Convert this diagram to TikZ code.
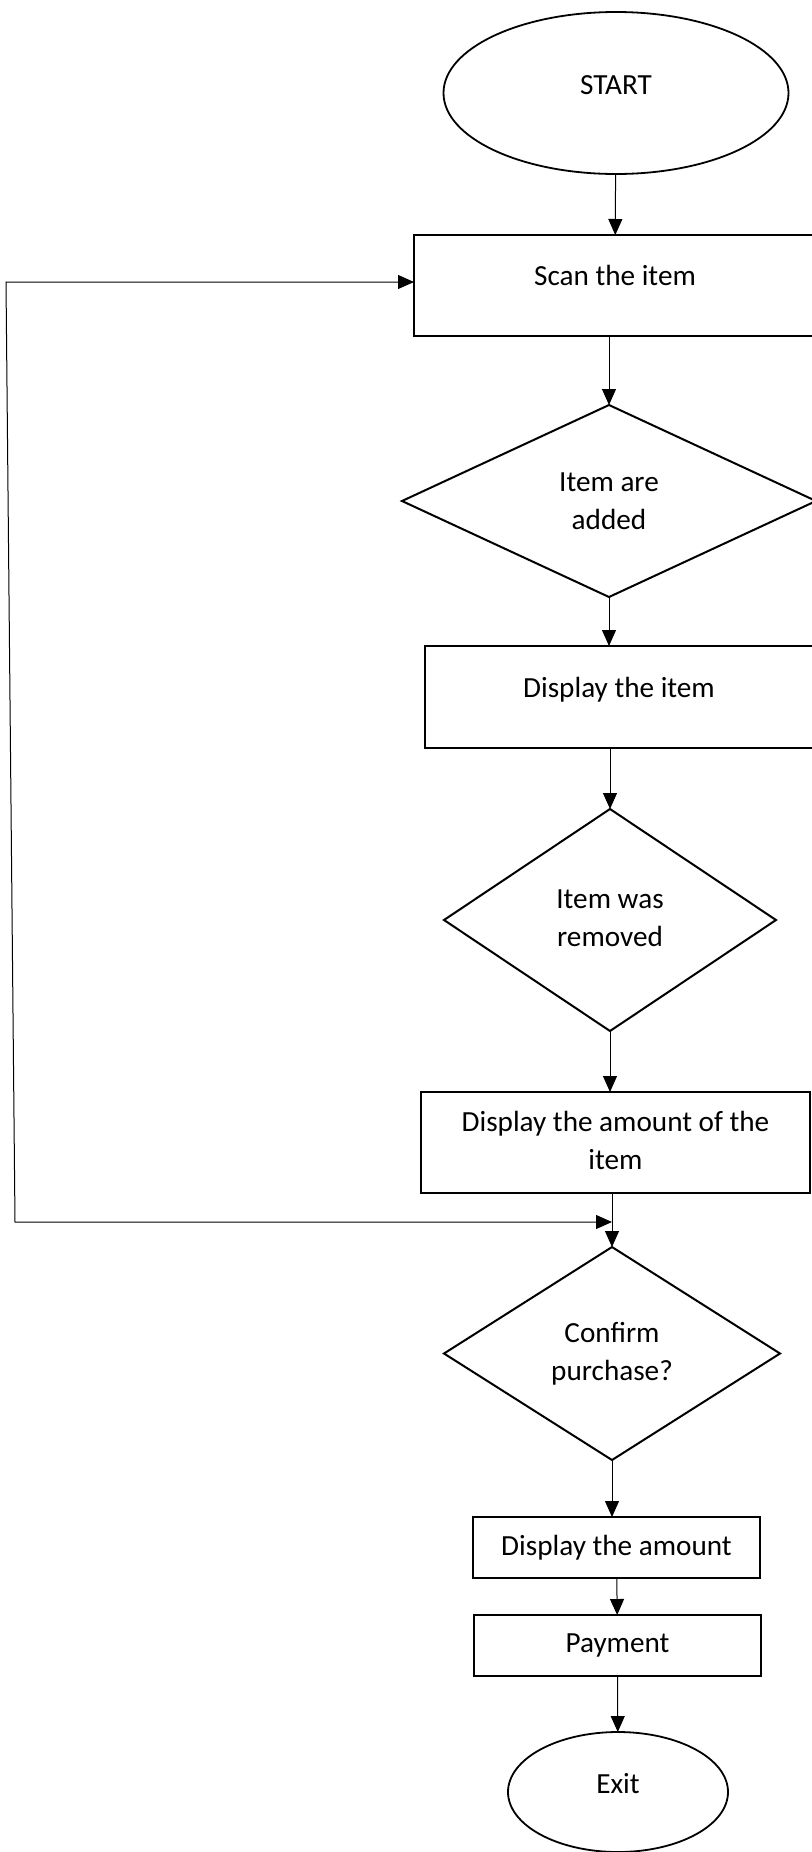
\documentclass[tikz,border=0pt]{standalone}
\usepackage{fontspec}
\setmainfont{Carlito}
\usetikzlibrary{arrows.meta, positioning, shapes.geometric}
\tikzset{%
	term/.style={draw, ellipse, line width=0.9pt, inner sep=0pt, outer sep=0pt},
	proc/.style={draw, rectangle, line width=1.3pt, inner sep=0pt, outer sep=0pt, align=center},
	dec/.style={draw, diamond, line width=1pt, inner sep=0pt, outer sep=0pt, align=center},
	flow/.style={-{Triangle[length=8pt, width=7pt]}, line width=0.5pt},
	back/.style={{Triangle[length=8pt, width=7pt]}-{Triangle[length=8pt, width=7pt]}, line width=0.5pt}
}
\begin{document}
\begin{tikzpicture}[x=0.5pt, y=-0.5pt, font=\fontsize{14.6pt}{19pt}\selectfont]
	\useasboundingbox (0,0) rectangle (811,1852);

	\node[term, minimum width=172.5pt, minimum height=81pt] (start) at (616,93) {\raisebox{8pt}{START}};
	\node[proc, minimum width=201pt, minimum height=50.5pt, below=30.5pt of start, xshift=-0.5pt] (scan) {\raisebox{10.5pt}{Scan the item}};
	\node[dec, minimum width=207pt, minimum height=96pt, below=34.5pt of scan, xshift=-3pt] (d1) {Item are\\added};
	\node[proc, minimum width=194pt, minimum height=51pt, below=24.5pt of d1, xshift=5pt] (item) {\raisebox{10pt}{Display the item}};
	\node[dec, minimum width=166pt, minimum height=111pt, below=30.5pt of item, xshift=-4.5pt] (d2) {\raisebox{7.5pt}{\begin{tabular}{@{}c@{}}Item was\\removed\end{tabular}}};
	\node[proc, minimum width=194.5pt, minimum height=50.5pt, below=30.5pt of d2, xshift=2.75pt] (amount) {\raisebox{1pt}{\begin{tabular}{@{}c@{}}Display the amount of the\\item\end{tabular}}};
	\node[dec, minimum width=168pt, minimum height=106.5pt, below=27pt of amount, xshift=-1.75pt] (d3) {\raisebox{2.25pt}{\begin{tabular}{@{}c@{}}Confirm\\purchase?\end{tabular}}};
	\node[proc, minimum width=143.5pt, minimum height=30.5pt, below=28.5pt of d3, xshift=2.25pt] (total) {\raisebox{1.2pt}{Display the amount}};
	\node[proc, minimum width=143.5pt, minimum height=30.5pt, below=18.5pt of total, xshift=0.5pt] (pay) {\raisebox{0.5pt}{Payment}};
	\node[term, minimum width=110pt, minimum height=60pt, below=28pt of pay, xshift=0.25pt] (exit) {\raisebox{9pt}{Exit}};

	\coordinate[below=14.5pt of amount, xshift=-1.75pt] (join);
	\coordinate (lb) at (15,1222);
	\coordinate (lt) at (6,282);

	\draw[flow] (start) -- (scan);
	\draw[flow] (d1.north |- scan.south) -- (d1.north);
	\draw[flow] (d1.south) -- (d1.south |- item.north);
	\draw[flow] (d2.north |- item.south) -- (d2.north);
	\draw[flow] (d2.south) -- (d2.south |- amount.north);
	\draw[flow] (d3.north |- amount.south) -- (d3.north);
	\draw[flow] (d3.south) -- (d3.south |- total.north);
	\draw[flow] (total) -- (pay);
	\draw[flow] (pay) -- (exit);
	\draw[back] (join) -- (lb) -- (lt) -- (lt -| scan.west);
\end{tikzpicture}
\end{document}
